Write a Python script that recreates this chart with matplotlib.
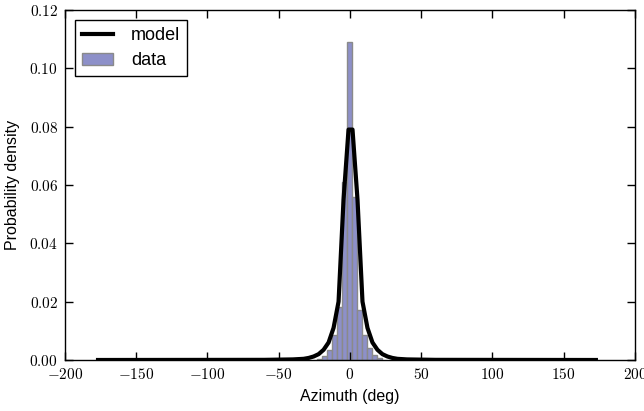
import matplotlib
matplotlib.use('Agg')
import matplotlib.pyplot as plt
from matplotlib.ticker import FuncFormatter

# histogram bins (left edges) and densities
bin_width = 3.5
bin_left = [-23.1, -19.6, -16.1, -12.6, -9.1, -5.6, -2.1, 1.4, 4.9, 8.4, 11.9, 15.4, 18.9]
bin_density = [0.0005, 0.0014, 0.0034, 0.0086, 0.018, 0.061, 0.109, 0.056, 0.017, 0.0086, 0.004, 0.0017, 0.0006]

# model curve
model_x = [-176.8, -60, -40, -32.5, -29, -25.5, -22, -18.5, -15, -11.5, -8, -4.5, -1.0,
           1.8, 5.3, 8.8, 12.3, 15.8, 19.3, 22.8, 26.3, 29.8, 33.3, 40, 60, 172.6]
model_y = [0.0, 0.00005, 0.0002, 0.0004, 0.0007, 0.0012, 0.002, 0.0035, 0.006, 0.011, 0.02, 0.055, 0.079,
           0.079, 0.055, 0.02, 0.011, 0.006, 0.0035, 0.002, 0.0012, 0.0007, 0.0004, 0.0002, 0.00005, 0.0]

xticks = [-200, -150, -100, -50, 0, 50, 100, 150, 200]
yticks = [0.00, 0.02, 0.04, 0.06, 0.08, 0.10, 0.12]

plt.rcParams['font.family'] = ['Liberation Sans', 'DejaVu Sans']
plt.rcParams['mathtext.fontset'] = 'cm'

fig = plt.figure(figsize=(6.44, 4.11), dpi=100)
ax = fig.add_axes([0.1009, 0.1241, 0.885, 0.8516])

ax.bar(bin_left, bin_density, width=bin_width, align='edge',
       facecolor='#8d90c9', edgecolor='#8a8a8a', linewidth=1, label='data')
ax.plot(model_x, model_y, color='black', linewidth=3, label='model')

ax.set_xlim(-200, 200)
ax.set_ylim(0, 0.12)
ax.set_xticks(xticks)
ax.set_yticks(yticks)
ax.xaxis.set_major_formatter(FuncFormatter(lambda v, p: r'$%g$' % v))
ax.yaxis.set_major_formatter(FuncFormatter(lambda v, p: r'$%.2f$' % v))
ax.tick_params(direction='in', length=6, width=1, top=True, right=True, labelsize=11, pad=5)
for s in ax.spines.values():
    s.set_linewidth(1)

ax.set_xlabel('Azimuth (deg)', fontsize=11.5, labelpad=5)
ax.set_ylabel('Probability density', fontsize=11.5, labelpad=7)

leg = ax.legend(loc='upper left', fontsize=13, fancybox=False, framealpha=1,
                edgecolor='black', handlelength=1.7, labelspacing=0.45,
                borderaxespad=0.55, handletextpad=1.0)
leg.get_frame().set_linewidth(1)

fig.savefig('out.png', dpi=100)
